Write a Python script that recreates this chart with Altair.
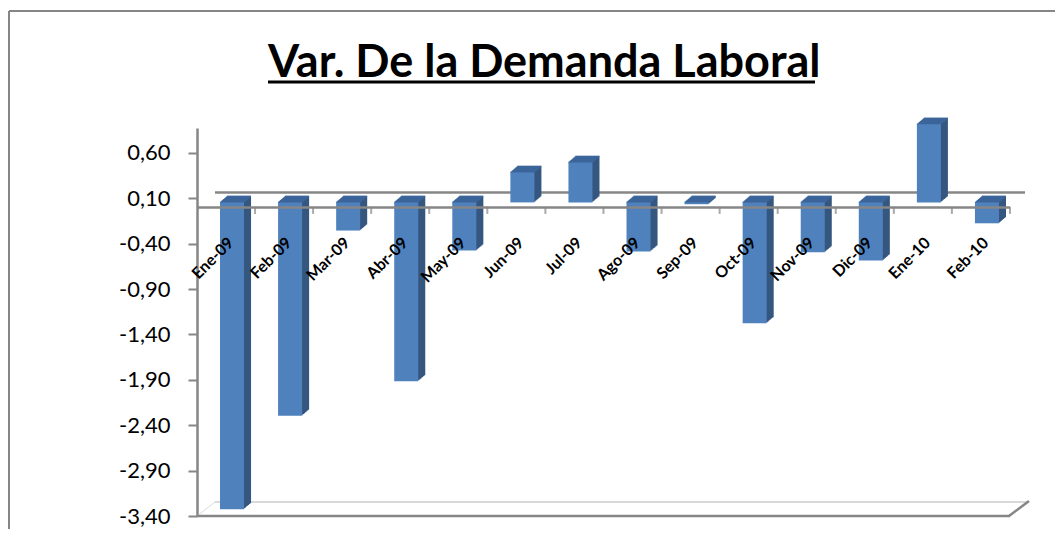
import altair as alt
import pandas as pd

# ---- data ----
months = ["Ene-09", "Feb-09", "Mar-09", "Abr-09", "May-09", "Jun-09", "Jul-09",
          "Ago-09", "Sep-09", "Oct-09", "Nov-09", "Dic-09", "Ene-10", "Feb-10"]
values = [-3.38, -2.35, -0.31, -1.97, -0.53, 0.33, 0.44,
          -0.54, -0.02, -1.33, -0.55, -0.64, 0.86, -0.23]
y_ticks = [-3.4, -2.9, -2.4, -1.9, -1.4, -0.9, -0.4, 0.1, 0.6]
title_text = "Var. De la Demanda Laboral"

df = pd.DataFrame({"mes": months, "v": values})
one = pd.DataFrame({"k": [0]})

FRONT = "#4F81BD"
SIDE = "#34567F"
TOP = "#3C659A"
GRAY = "#868686"

W, H = 813, 388
yscale = alt.Scale(domain=[-3.4, 0.875], nice=False, zero=False)
xenc = alt.X("mes:N", sort=months, axis=None,
             scale=alt.Scale(paddingInner=0.586, paddingOuter=0.293))

label_expr = ("(datum.value < -0.0001 ? '-' : '') + "
              "replace(format(abs(datum.value), '.2f'), '.', ',')")
yaxis = alt.Axis(values=y_ticks, labelExpr=label_expr, title=None, grid=False,
                 labelFont="Lato", labelFontSize=22, labelColor="black",
                 domainColor=GRAY, domainWidth=2.5, tickColor=GRAY, tickWidth=2,
                 tickSize=9, labelPadding=18)

base = alt.Chart(df).transform_calculate(top="max(datum.v, 0)").encode(x=xenc)

layers = []

# floor / walls (3D hints)
layers.append(alt.Chart(one).mark_rule(color="#D9D9D9", strokeWidth=2).encode(
    x=alt.value(18), x2=alt.value(831), y=alt.value(H - 14)))
layers.append(alt.Chart(one).mark_rule(color="#D9D9D9", strokeWidth=1).encode(
    x=alt.value(0), x2=alt.value(18), y=alt.value(H), y2=alt.value(H - 14)))
layers.append(alt.Chart(one).mark_rule(color=GRAY, strokeWidth=2.5).encode(
    x=alt.value(812), x2=alt.value(832), y=alt.value(H), y2=alt.value(H - 15)))
layers.append(alt.Chart(one).mark_rule(color=GRAY, strokeWidth=2.5).encode(
    x=alt.value(0), x2=alt.value(W), y=alt.value(H)))
layers.append(alt.Chart(one).mark_rule(color=GRAY, strokeWidth=2.5, yOffset=-15).encode(
    x=alt.value(18), x2=alt.value(828),
    y=alt.YDatum(0, scale=yscale, axis=yaxis)))

# bar side faces (extrusion)
for k in range(1, 8):
    off = -5 - k * 6 / 7
    layers.append(base.mark_bar(color=SIDE, xOffset=6 + k, yOffset=off, y2Offset=off).encode(
        y=alt.Y("v:Q", scale=yscale, axis=yaxis), y2=alt.Y2Datum(0)))

# bar top faces
for k in range(0, 8):
    off = -5 - k * 6 / 7
    layers.append(base.mark_bar(color=TOP, xOffset=6 + k, yOffset=off - 0.8, y2Offset=off + 0.8).encode(
        y=alt.Y("top:Q", scale=yscale, axis=yaxis), y2=alt.Y2("top:Q")))

# front faces
layers.append(base.mark_bar(color=FRONT, xOffset=6, yOffset=-5, y2Offset=-5).encode(
    y=alt.Y("v:Q", scale=yscale, axis=yaxis), y2=alt.Y2Datum(0)))

# front floor edge at zero with category ticks
layers.append(alt.Chart(one).mark_rule(color=GRAY, strokeWidth=2.5).encode(
    x=alt.value(0), x2=alt.value(W), y=alt.YDatum(0, scale=yscale, axis=yaxis)))
layers.append(base.mark_tick(color=GRAY, thickness=2, size=7, xOffset=29, yOffset=3, orient="vertical").encode(
    y=alt.YDatum(0, scale=yscale, axis=yaxis)))

# category labels
layers.append(base.mark_text(angle=315, align="right", baseline="middle",
                             xOffset=5, yOffset=33, font="Lato", fontSize=16,
                             fontWeight="bold", color="black").encode(
    y=alt.YDatum(0, scale=yscale, axis=yaxis), text="mes:N"))

# title + underline
layers.append(alt.Chart(pd.DataFrame({"t": [title_text]})).mark_text(
    font="Lato", fontSize=45, fontWeight="bold", color="black",
    align="left", baseline="alphabetic").encode(
    x=alt.value(71), y=alt.value(-51), text="t:N"))
layers.append(alt.Chart(one).mark_rule(color="black", strokeWidth=3).encode(
    x=alt.value(71), x2=alt.value(618), y=alt.value(-46)))

# outer frame (left and top edges)
layers.append(alt.Chart(one).mark_rule(color=GRAY, strokeWidth=2).encode(
    x=alt.value(-188), x2=alt.value(866), y=alt.value(-117)))
layers.append(alt.Chart(one).mark_rule(color=GRAY, strokeWidth=2).encode(
    x=alt.value(-188), y=alt.value(-117), y2=alt.value(401)))

chart = alt.layer(*layers).properties(
    width=W, height=H,
    autosize=alt.AutoSizeParams(type="none"),
    padding={"left": 189, "top": 120, "right": 45, "bottom": 13},
    background="white",
).configure_view(stroke=None)

chart.save("out.html", embed_options={"renderer": "svg", "actions": False})
